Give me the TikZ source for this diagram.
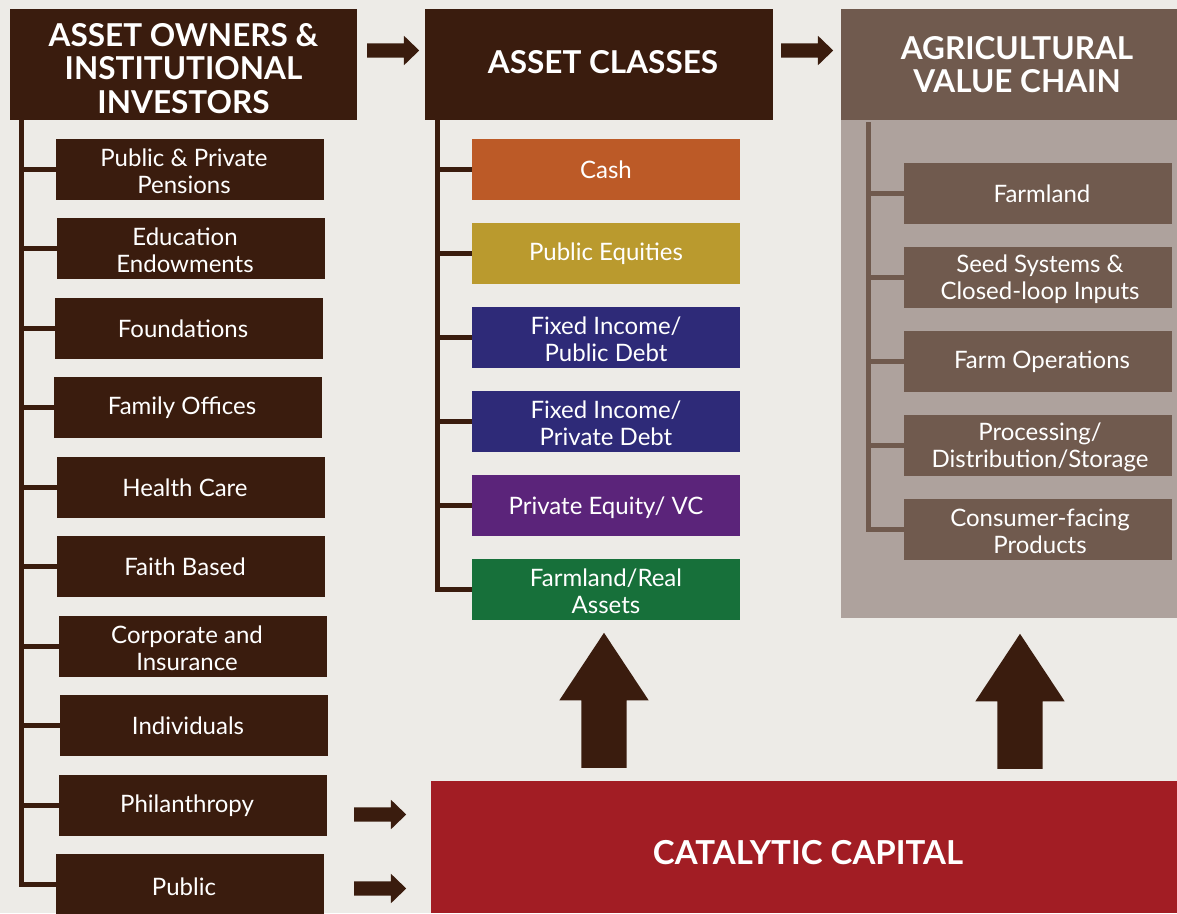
\documentclass[tikz,border=0pt]{standalone}
\usepackage{fontspec}
\setmainfont{Lato}
\usetikzlibrary{shapes.arrows}
\definecolor{bg}{HTML}{EDEBE7}
\definecolor{dbrown}{HTML}{3A1C0E}
\definecolor{mbrown}{HTML}{705A4E}
\definecolor{panelc}{HTML}{AEA29D}
\definecolor{cashc}{HTML}{BC5A27}
\definecolor{equc}{HTML}{BA9A2E}
\definecolor{fixc}{HTML}{2E2A78}
\definecolor{pec}{HTML}{5B247A}
\definecolor{farmc}{HTML}{17703A}
\definecolor{catc}{HTML}{A21D24}
\begin{document}
\begin{tikzpicture}[x=1pt,y=-1pt,
  header/.style={rectangle, inner sep=0pt, minimum height=111pt, text=white, align=center,
    font=\fontsize{31.5}{33.5}\selectfont\bfseries},
  item/.style={rectangle, inner sep=0pt, minimum width=268pt, minimum height=61pt},
  itemtext/.style={text=white, inner sep=0pt, align=center, font=\fontsize{24}{27}\selectfont},
  ltext/.style={itemtext, xshift=-6pt},
  ltwo/.style={itemtext, xshift=-6pt, yshift=-2pt},
  mtext/.style={itemtext},
  mtwo/.style={itemtext, yshift=-2pt},
  rtext/.style={itemtext, xshift=4pt},
  rtwo/.style={itemtext, xshift=2pt, yshift=-2pt},
  trunk/.style={line width=5pt, line join=miter},
  smallarrow/.style={single arrow, fill=dbrown, inner xsep=0pt, inner ysep=7pt,
    minimum height=52pt, minimum width=29pt, single arrow head extend=7.5pt,
    single arrow tip angle=88, anchor=tail},
  bigarrow/.style={single arrow, fill=dbrown, inner xsep=0pt, inner ysep=22.5pt,
    minimum height=135pt, minimum width=89pt, single arrow head extend=22pt,
    single arrow tip angle=67, rotate=90, anchor=tail}]
\useasboundingbox[fill=bg] (0,0) rectangle (1177,913);

% panel behind value chain
\node[rectangle, fill=panelc, inner sep=0pt, minimum width=336pt, minimum height=498pt] (panel) at (1009,369) {};

% headers
\node[header, fill=dbrown, minimum width=347pt] (h1) at (183.5,64.5) {\rule{0pt}{31pt}ASSET OWNERS \&\\INSTITUTIONAL\\INVESTORS};
\node[header, fill=dbrown, minimum width=348pt] (h2) at (599,64.5) {\hspace*{8pt}ASSET CLASSES\rule[-6pt]{0pt}{6pt}};
\node[header, fill=mbrown, minimum width=336pt] (h3) at (1009,64.5) {\hspace*{16pt}AGRICULTURAL\\\hspace*{16pt}VALUE CHAIN};

% left items
\node[item, fill=dbrown, label={[ltwo]center:{Public \& Private\\Pensions}}] (l1) at (190,169.5) {};
\node[item, fill=dbrown, label={[ltwo]center:{Education\\Endowments}}] (l2) at (191,248.5) {};
\node[item, fill=dbrown, label={[ltext]center:{Foundations}}] (l3) at (189,328.5) {};
\node[item, fill=dbrown, label={[ltext]center:{Family Offices}}] (l4) at (188,407.5) {};
\node[item, fill=dbrown, label={[ltext]center:{Health Care}}] (l5) at (191,487.5) {};
\node[item, fill=dbrown, label={[ltext]center:{Faith Based}}] (l6) at (191,566.5) {};
\node[item, fill=dbrown, label={[ltwo]center:{Corporate and\\Insurance}}] (l7) at (193,646.5) {};
\node[item, fill=dbrown, label={[ltext]center:{Individuals}}] (l8) at (194,725.5) {};
\node[item, fill=dbrown, label={[ltext]center:{Philanthropy}}] (l9) at (193,805.5) {};
\node[item, fill=dbrown, label={[ltext, yshift=-2pt]center:{Public}}] (l10) at (190,884.5) {};

% middle items
\node[item, fill=cashc, label={[mtext]center:{Cash}}] (m1) at (606,169.5) {};
\node[item, fill=equc, label={[mtext]center:{Public Equities}}] (m2) at (606,253.5) {};
\node[item, fill=fixc, label={[mtwo]center:{Fixed Income/\\Public Debt}}] (m3) at (606,337.5) {};
\node[item, fill=fixc, label={[mtwo]center:{Fixed Income/\\Private Debt}}] (m4) at (606,421.5) {};
\node[item, fill=pec, label={[mtext, yshift=-2pt]center:{Private Equity/ VC}}] (m5) at (606,505.5) {};
\node[item, fill=farmc, label={[mtwo]center:{Farmland/Real\\Assets}}] (m6) at (606,589.5) {};

% right items
\node[item, fill=mbrown, label={[rtext]center:{Farmland}}] (r1) at (1038,193.5) {};
\node[item, fill=mbrown, label={[rtwo]center:{Seed Systems \&\\Closed-loop Inputs}}] (r2) at (1038,277.5) {};
\node[item, fill=mbrown, label={[rtext]center:{Farm Operations}}] (r3) at (1038,361.5) {};
\node[item, fill=mbrown, label={[rtwo]center:{Processing/\\Distribution/Storage}}] (r4) at (1038,445.5) {};
\node[item, fill=mbrown, label={[rtwo]center:{Consumer-facing\\Products}}] (r5) at (1038,529.5) {};

% catalytic capital
\node[rectangle, fill=catc, inner sep=0pt, minimum width=746pt, minimum height=132pt] (cat) at (804,847) {};
\node[text=white, inner sep=0pt, font=\fontsize{33}{36}\selectfont\bfseries] (catlabel) at (808,853) {CATALYTIC CAPITAL};

% trunks
\coordinate (t1) at (21,120);
\coordinate (t2) at (437,120);
\coordinate (t3) at (868,122);
\draw[trunk, dbrown] (t1) |- (l10.west);
\foreach \n in {l1,l2,l3,l4,l5,l6,l7,l8,l9} \draw[trunk, dbrown] (t1 |- \n.west) -- (\n.west);
\draw[trunk, dbrown] (t2) |- (m6.west);
\foreach \n in {m1,m2,m3,m4,m5} \draw[trunk, dbrown] (t2 |- \n.west) -- (\n.west);
\draw[trunk, mbrown] (t3) |- (r5.west);
\foreach \n in {r1,r2,r3,r4} \draw[trunk, mbrown] (t3 |- \n.west) -- (\n.west);

% block arrows
\node[smallarrow] (a12) at (367,50.5) {};
\node[smallarrow] (a23) at (781,50.5) {};
\node[smallarrow] (aphil) at (354,814.5) {};
\node[smallarrow] (apub) at (354,888.5) {};
\node[bigarrow] (up1) at (604,768) {};
\node[bigarrow] (up2) at (1020,769) {};
\end{tikzpicture}
\end{document}
